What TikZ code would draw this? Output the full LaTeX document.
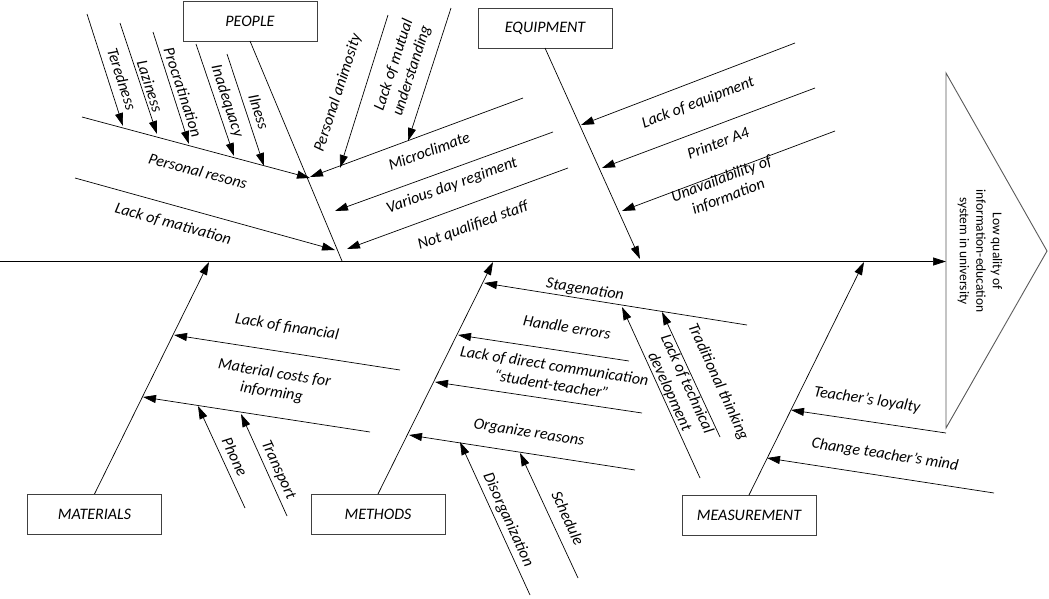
\documentclass[tikz,border=0pt]{standalone}
\usepackage{fontspec}
\setmainfont{Carlito}
\usetikzlibrary{arrows.meta}
\begin{document}
\begin{tikzpicture}[x=1pt,y=-1pt,
  every node/.style={inner sep=0pt,outer sep=0pt},
  lbl/.style={font=\fontsize{16}{19}\selectfont\itshape,align=center},
  cat/.style={draw=black!75,line width=0.8pt,minimum width=134pt,minimum height=40pt,font=\fontsize{16}{19}\selectfont\itshape},
  ln/.style={line width=0.7pt},
  arr/.style={ln,-{Triangle[length=13pt,width=8pt]}}
]
\useasboundingbox (0,0) rectangle (1049,598);

% head
\coordinate (hw) at (946,261.5);
\draw[black!65,line width=0.9pt] (946,73) -- (1047,251) -- (946,428) -- cycle;
\node[rotate=-90,align=center,font=\fontsize{13.5}{16.5}\selectfont] (headtxt) at (980,251) {Low quality of\\information-education\\system in university};

% spine
\coordinate (s0) at (0,261.5);
\draw[arr] (s0) -- (hw);

% category boxes
\node[cat] (people) at (250,21) {PEOPLE};
\node[cat] (equip) at (545,28) {EQUIPMENT};
\node[cat] (mat) at (94.5,514) {MATERIALS};
\node[cat] (meth) at (378,514) {METHODS};
\node[cat] (meas) at (749,515) {MEASUREMENT};

% bone end points on the spine
\coordinate (pE) at (342,261);
\coordinate (eE) at (640,259);
\coordinate (mE) at (209,262);
\coordinate (thE) at (493,262);
\coordinate (msE) at (864,262);

\draw[ln] (people.south) -- (pE);
\draw[arr] (equip.south) -- (eE);
\draw[arr] (mat.north) -- (mE);
\draw[arr] (meth.north) -- (thE);
\draw[arr] (meas.north) -- (msE);

% ---------- PEOPLE ----------
\coordinate (prS) at (82,117);  \coordinate (prE) at (310,178);
\draw[arr] (prS) -- (prE);
\node[lbl,rotate=-15] (prT) at (198,171) {Personal resons};
\coordinate (lmS) at (75,178);  \coordinate (lmE) at (335,250);
\draw[arr] (lmS) -- (lmE);
\node[lbl,rotate=-15.5] (lmT) at (173,224) {Lack of mativation};

\coordinate (t1S) at (87,14);   \coordinate (t1E) at (123,126);
\coordinate (t2S) at (120,23);  \coordinate (t2E) at (157,134);
\coordinate (t3S) at (153,32);  \coordinate (t3E) at (189,144);
\coordinate (t4S) at (196,44);  \coordinate (t4E) at (234,156);
\coordinate (t5S) at (227,54);  \coordinate (t5E) at (264,166);
\foreach \i in {1,...,5}{\draw[arr] (t\i S) -- (t\i E);}
\node[lbl,rotate=-72] (t1T) at (122,79) {Teredness};
\node[lbl,rotate=-72] (t2T) at (150,86) {Laziness};
\node[lbl,rotate=-72] (t3T) at (183,92) {Procratination};
\node[lbl,rotate=-72] (t4T) at (227,101) {Inadequacy};
\node[lbl,rotate=-72] (t5T) at (259,112) {Ilness};

\coordinate (paS) at (388,15);  \coordinate (paE) at (340,168);
\draw[arr] (paS) -- (paE);
\node[lbl,rotate=72] (paT) at (338,93) {Personal animosity};
\coordinate (muS) at (451,8);   \coordinate (muE) at (408,141);
\draw[arr] (muS) -- (muE);
\node[lbl,rotate=72] (muT) at (403,68) {Lack of mutual\\understanding};

\coordinate (mcS) at (523,98);  \coordinate (mcE) at (310,177);
\draw[arr] (mcS) -- (mcE);
\node[lbl,rotate=20] (mcT) at (429,151) {Microclimate};
\coordinate (vdS) at (553,132); \coordinate (vdE) at (335,211);
\draw[arr] (vdS) -- (vdE);
\node[lbl,rotate=20] (vdT) at (452,186) {Various day regiment};
\coordinate (nqS) at (568,168); \coordinate (nqE) at (347,249);
\draw[arr] (nqS) -- (nqE);
\node[lbl,rotate=20] (nqT) at (473,226) {Not qualified staff};

% ---------- EQUIPMENT ----------
\coordinate (leS) at (795,43);  \coordinate (leE) at (581,125);
\draw[arr] (leS) -- (leE);
\node[lbl,rotate=21] (leT) at (698,103) {Lack of equipment};
\coordinate (paS2) at (815,88); \coordinate (paE2) at (602,168);
\draw[arr] (paS2) -- (paE2);
\node[lbl,rotate=21] (paT2) at (718,143) {Printer A4};
\coordinate (uiS) at (835,131); \coordinate (uiE) at (622,211);
\draw[arr] (uiS) -- (uiE);
\node[lbl,rotate=21] (uiT) at (725,188) {Unavailability of\\information};

% ---------- MATERIALS ----------
\coordinate (lfS) at (400,370); \coordinate (lfE) at (174,335);
\draw[arr] (lfS) -- (lfE);
\node[lbl,rotate=-9] (lfT) at (287,327) {Lack of financial};
\coordinate (mcS2) at (370,432); \coordinate (mcE2) at (143,397);
\draw[arr] (mcS2) -- (mcE2);
\node[lbl,rotate=-9] (mcT2) at (273,383) {Material costs for\\informing};
\coordinate (phS) at (245,508); \coordinate (phE) at (198,406);
\draw[arr] (phS) -- (phE);
\node[lbl,rotate=-65] (phT) at (235,457) {Phone};
\coordinate (trS) at (287,516); \coordinate (trE) at (241,414);
\draw[arr] (trS) -- (trE);
\node[lbl,rotate=-65] (trT) at (278,470) {Transport};

% ---------- METHODS ----------
\coordinate (stS) at (747,325); \coordinate (stE) at (484,283);
\draw[arr] (stS) -- (stE);
\node[lbl,rotate=-9] (stT) at (585,290) {Stagenation};
\coordinate (heS) at (629,361); \coordinate (heE) at (458,335);
\draw[arr] (heS) -- (heE);
\node[lbl,rotate=-9] (heT) at (567,327) {Handle errors};
\coordinate (ldS) at (642,413); \coordinate (ldE) at (435,382);
\draw[arr] (ldS) -- (ldE);
\node[lbl,rotate=-9] (ldT) at (553,375) {Lack of direct communication\\“student-teacher”};
\coordinate (orS) at (635,470); \coordinate (orE) at (409,435);
\draw[arr] (orS) -- (orE);
\node[lbl,rotate=-9] (orT) at (529,433) {Organize reasons};
\coordinate (diS) at (530,595); \coordinate (diE) at (460,442);
\draw[arr] (diS) -- (diE);
\node[lbl,rotate=-65.5] (diT) at (508,520) {Disorganization};
\coordinate (scS) at (578,578); \coordinate (scE) at (520,453);
\draw[arr] (scS) -- (scE);
\node[lbl,rotate=-65.5] (scT) at (568,518) {Schedule};
\coordinate (ltS) at (700,478); \coordinate (ltE) at (622,307);
\draw[arr] (ltS) -- (ltE);
\node[lbl,rotate=-65.5] (ltT) at (678,388) {Lack of technical\\development};
\coordinate (ttS) at (720,437); \coordinate (ttE) at (662,312);
\draw[arr] (ttS) -- (ttE);
\node[lbl,rotate=-65.5] (ttT) at (718,382) {Traditional thinking};

% ---------- MEASUREMENT ----------
\coordinate (tlS) at (946,433); \coordinate (tlE) at (791,410);
\draw[arr] (tlS) -- (tlE);
\node[lbl,rotate=-8.5] (tlT) at (867,400) {Teacher’s loyalty};
\coordinate (ctS) at (994,493); \coordinate (ctE) at (767,458);
\draw[arr] (ctS) -- (ctE);
\node[lbl,rotate=-8.8] (ctT) at (885,455) {Change teacher’s mind};
\end{tikzpicture}
\end{document}
